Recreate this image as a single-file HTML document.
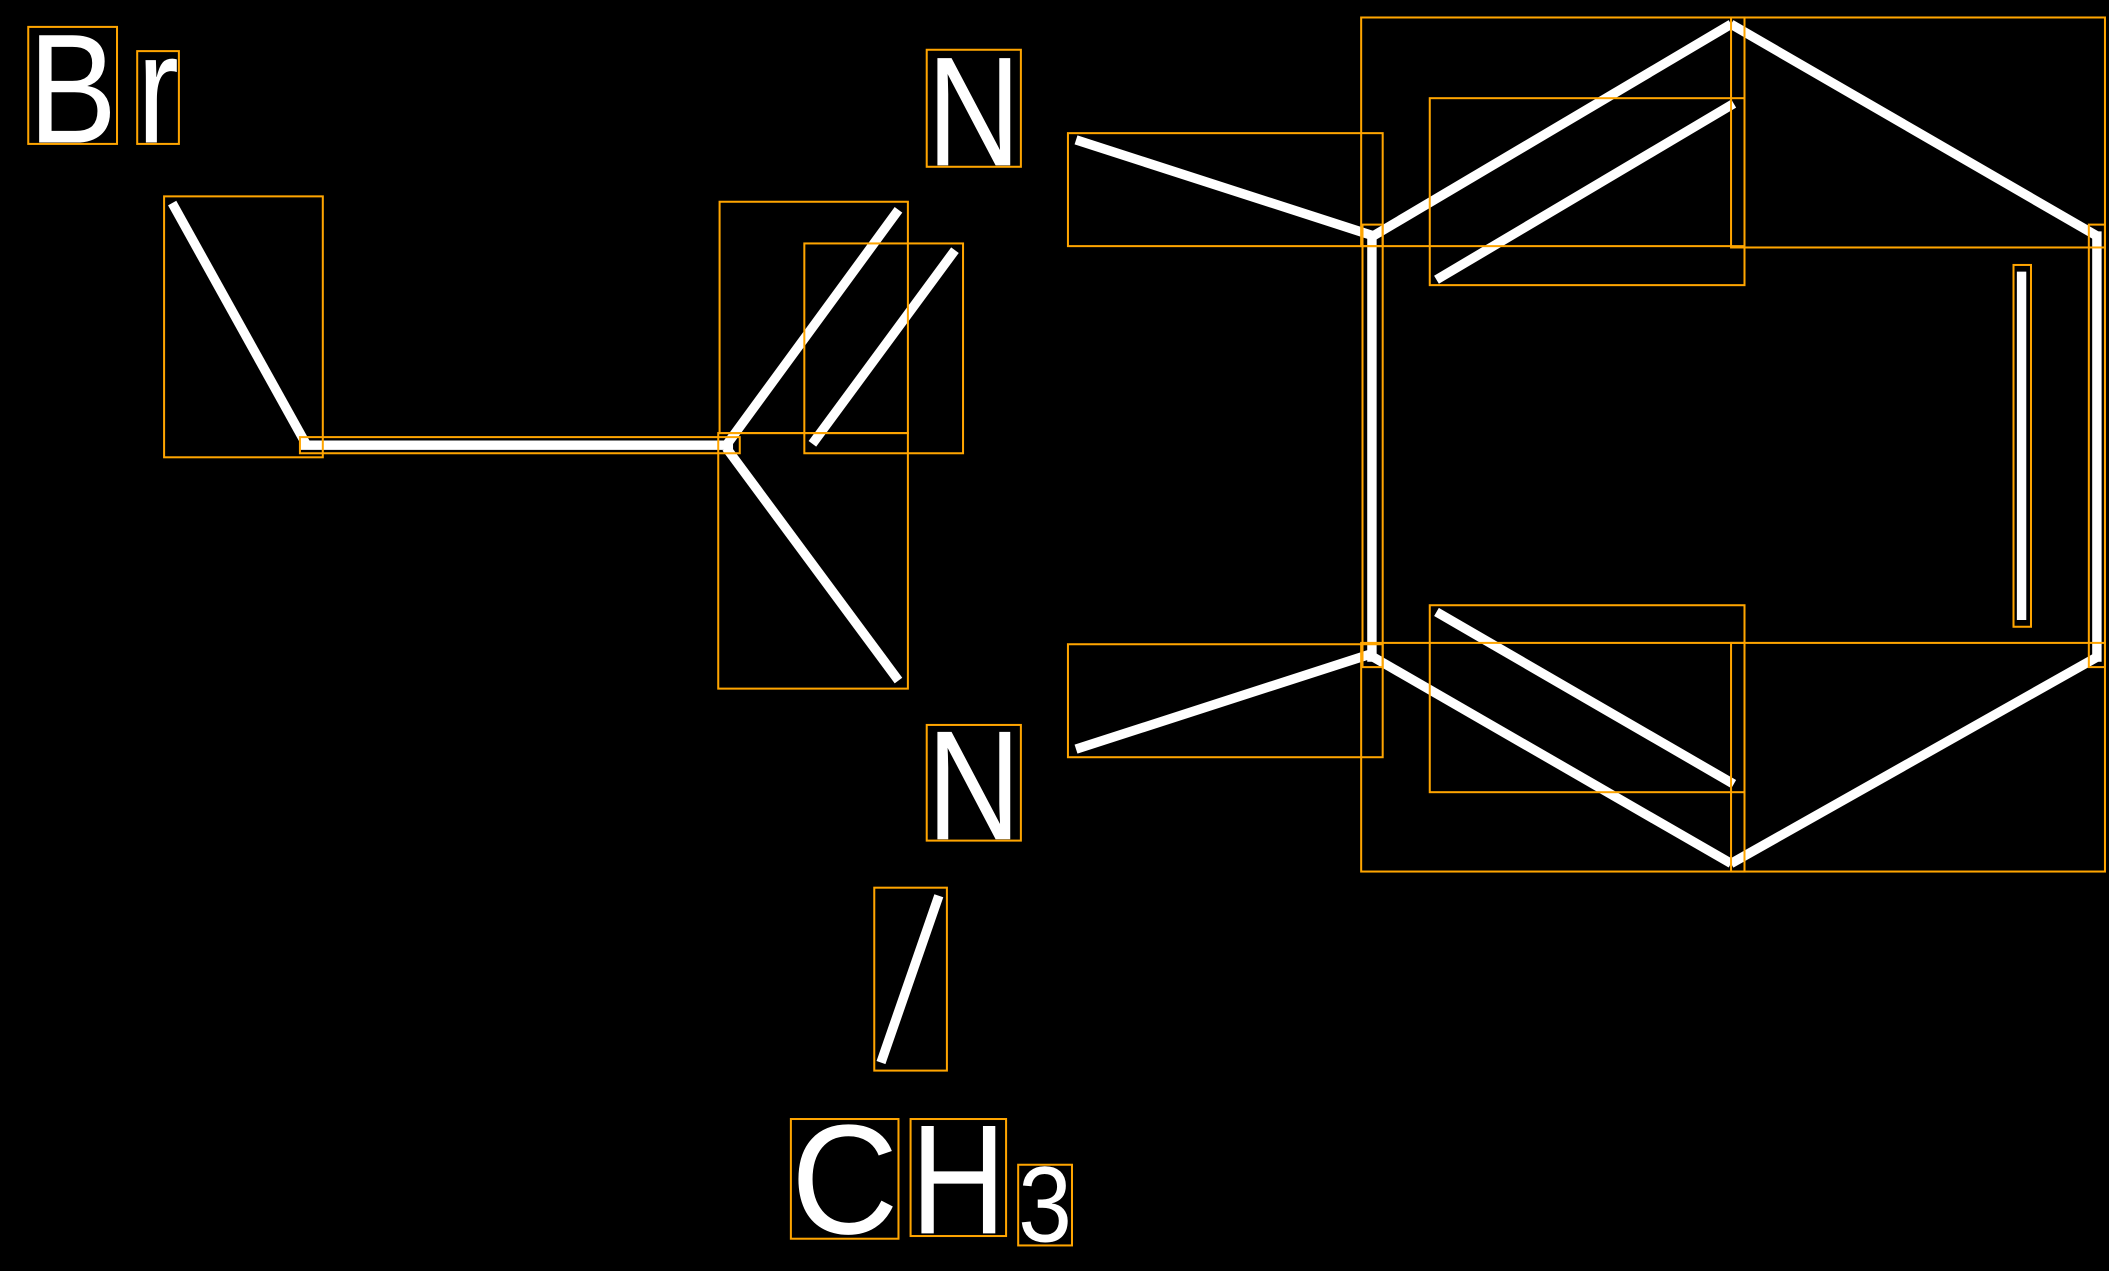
<!DOCTYPE html>
<html><head><meta charset="utf-8"><style>html,body{margin:0;padding:0;background:#000;}svg{display:block}</style></head>
<body>
<svg width="2109" height="1271" viewBox="0 0 1568 945" preserveAspectRatio="none" xmlns="http://www.w3.org/2000/svg">
<rect width="1568" height="945" fill="#000"/>
<g stroke="#fff" stroke-width="7" fill="none">
<line x1="128" y1="151" x2="228" y2="331"/>
<line x1="223" y1="331" x2="545" y2="331"/>
<line x1="540" y1="331" x2="668" y2="156"/>
<line x1="604" y1="330" x2="710" y2="186"/>
<line x1="540" y1="333" x2="668" y2="506"/>
<line x1="800" y1="104" x2="1020" y2="175"/>
<line x1="1020" y1="172" x2="1020" y2="492"/>
<line x1="1020" y1="176" x2="1287" y2="18"/>
<line x1="1068" y1="208" x2="1289" y2="77"/>
<line x1="1287" y1="18" x2="1560" y2="176"/>
<line x1="1559" y1="172" x2="1559" y2="492"/>
<line x1="1503" y1="202" x2="1503" y2="461"/>
<line x1="800" y1="557" x2="1020" y2="486"/>
<line x1="1020" y1="488" x2="1287" y2="642"/>
<line x1="1068" y1="455" x2="1289" y2="583"/>
<line x1="1287" y1="642" x2="1560" y2="488"/>
<line x1="655" y1="790" x2="698" y2="666"/>
</g>
<g stroke="#ffa500" stroke-width="1.5" fill="none">
<rect x="21" y="20" width="66" height="87"/>
<rect x="102" y="38" width="31" height="69"/>
<rect x="689" y="37" width="70" height="87"/>
<rect x="689" y="539" width="70" height="86"/>
<rect x="122" y="146" width="118" height="194"/>
<rect x="223" y="325" width="327" height="12"/>
<rect x="535" y="150" width="140" height="172"/>
<rect x="598" y="181" width="118" height="156"/>
<rect x="534" y="322" width="141" height="190"/>
<rect x="794" y="99" width="234" height="84"/>
<rect x="1013" y="167" width="15" height="329"/>
<rect x="1012" y="13" width="285" height="170"/>
<rect x="1063" y="73" width="234" height="139"/>
<rect x="1287" y="13" width="278" height="171"/>
<rect x="1553" y="167" width="12" height="329"/>
<rect x="1497" y="197" width="13" height="269"/>
<rect x="794" y="479" width="234" height="84"/>
<rect x="1012" y="478" width="285" height="170"/>
<rect x="1063" y="450" width="234" height="139"/>
<rect x="1287" y="478" width="278" height="170"/>
<rect x="650" y="660" width="54" height="136"/>
<rect x="588" y="832" width="80" height="89"/>
<rect x="677" y="832" width="71" height="87"/>
<rect x="757" y="866" width="40" height="60"/>
</g>
<g fill="#fff" font-family="Liberation Sans, sans-serif">
<text x="21" y="106" font-size="116" textLength="66" lengthAdjust="spacingAndGlyphs">B</text>
<text x="102" y="106" font-size="116" textLength="31" lengthAdjust="spacingAndGlyphs">r</text>
<text x="689" y="123" font-size="116" textLength="70" lengthAdjust="spacingAndGlyphs">N</text>
<text x="689" y="624" font-size="116" textLength="70" lengthAdjust="spacingAndGlyphs">N</text>
<text x="588" y="917" font-size="116" textLength="80" lengthAdjust="spacingAndGlyphs">C</text>
<text x="677" y="917" font-size="116" textLength="71" lengthAdjust="spacingAndGlyphs">H</text>
<text x="757" y="923" font-size="80" textLength="40" lengthAdjust="spacingAndGlyphs">3</text>
</g>
</svg>
</body></html>
